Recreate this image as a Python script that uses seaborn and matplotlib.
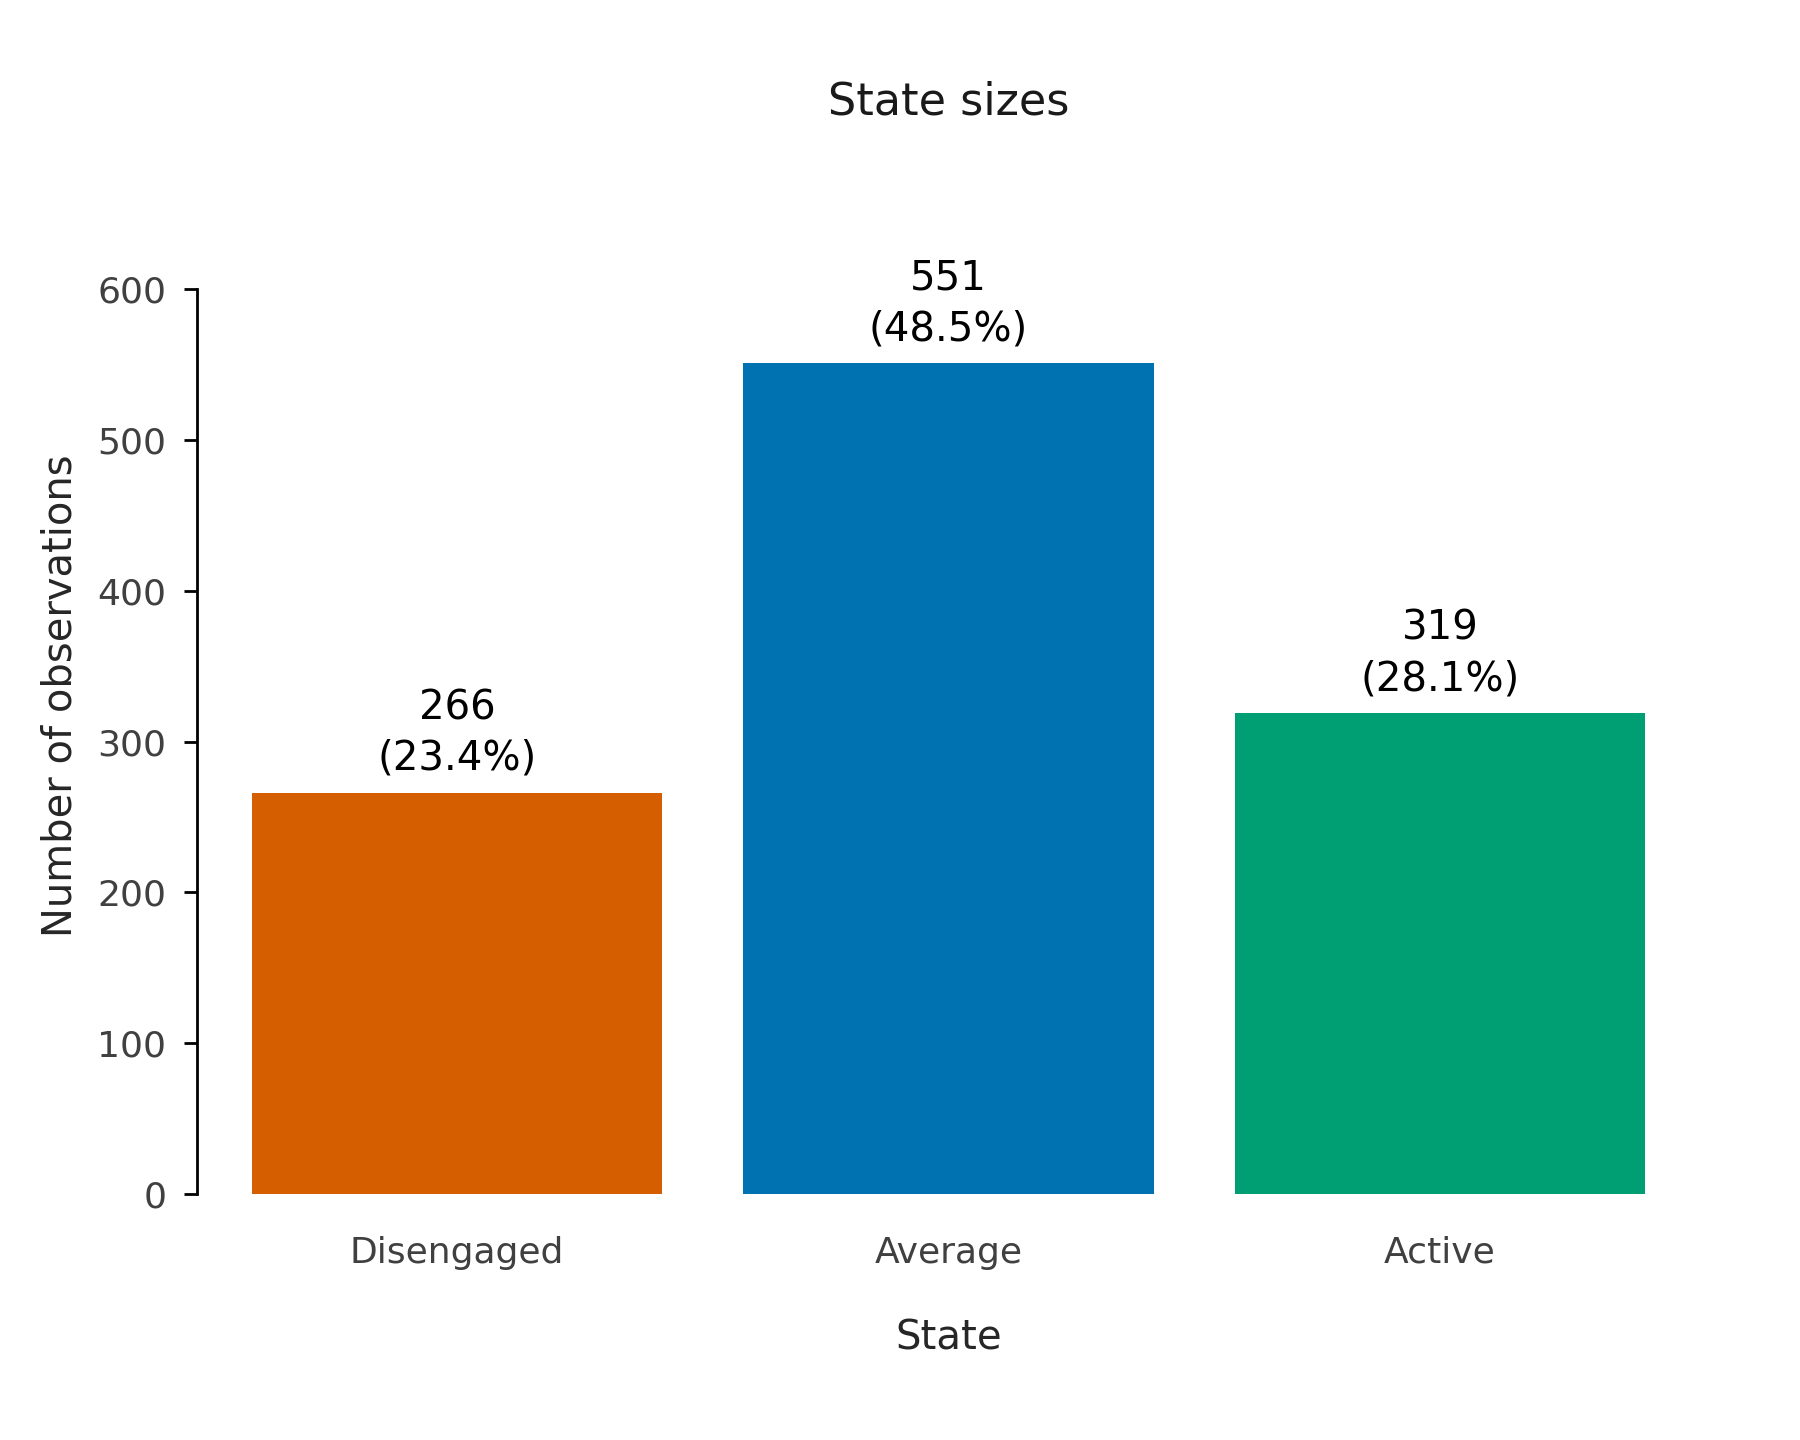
import matplotlib
matplotlib.use("Agg")
import matplotlib.pyplot as plt
import seaborn as sns
import pandas as pd

states = ["Disengaged", "Average", "Active"]
counts = [266, 551, 319]
percents = [23.4, 48.5, 28.1]
colors = ["#D55E00", "#0072B2", "#009E73"]
yticks = [0, 100, 200, 300, 400, 500, 600]

sns.set_style("white")
plt.rcParams['font.family'] = ['DejaVu Sans']

df = pd.DataFrame({"State": states, "Count": counts})

fig = plt.figure(figsize=(9, 7.2), dpi=200)
ax = fig.add_axes([0.1096, 0.1708, 0.8346, 0.6925])
sns.barplot(data=df, x="State", y="Count", hue="State", palette=colors,
            order=states, hue_order=states, width=0.835, legend=False, ax=ax,
            saturation=1, linewidth=0)

ax.set_xlim(-0.528, 2.528)
ax.set_ylim(0, max(counts) * 1.2)
ax.set_yticks(yticks)
for s in ["top", "right", "bottom"]:
    ax.spines[s].set_visible(False)
ax.spines["left"].set_bounds(0, 600)
ax.spines["left"].set_linewidth(1.0)
ax.spines["left"].set_color("black")
ax.tick_params(axis="y", length=4.7, width=1.0, color="black", pad=6.5,
               labelsize=13, labelcolor="#404040", left=True)
ax.tick_params(axis="x", length=0, pad=15, labelsize=13, labelcolor="#404040")

for i, (c, p) in enumerate(zip(counts, percents)):
    ax.annotate(f"{c}\n({p}%)", xy=(i, c), xytext=(0, 5), textcoords="offset points",
                ha="center", va="bottom", fontsize=14.5, color="black",
                annotation_clip=False, linespacing=1.33)

ax.set_xlabel("State", fontsize=14.5, color="#262626", labelpad=17.5)
ax.set_ylabel("Number of observations", fontsize=14.4, color="#262626", labelpad=6)
fig.text(0.1096 + 0.8346 / 2, 1 - 102 / 1440, "State sizes", ha="center", va="center",
         fontsize=16, color="#1a1a1a")

fig.savefig("out.png", dpi=200, facecolor="white")
